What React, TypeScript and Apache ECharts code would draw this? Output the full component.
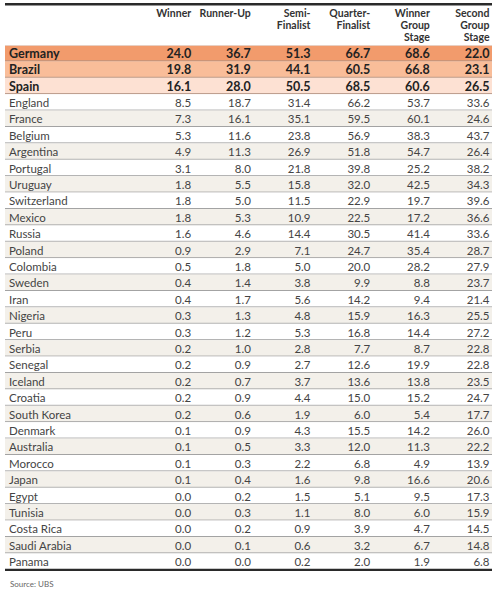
import React, { useEffect, useRef } from "react";
import * as echarts from "echarts";

const countries = [
  "Germany", "Brazil", "Spain", "England", "France", "Belgium", "Argentina", "Portugal",
  "Uruguay", "Switzerland", "Mexico", "Russia", "Poland", "Colombia", "Sweden", "Iran",
  "Nigeria", "Peru", "Serbia", "Senegal", "Iceland", "Croatia", "South Korea", "Denmark",
  "Australia", "Morocco", "Japan", "Egypt", "Tunisia", "Costa Rica", "Saudi Arabia", "Panama",
];
const headers = [
  "Winner", "Runner-Up", "Semi-\nFinalist", "Quarter-\nFinalist",
  "Winner\nGroup\nStage", "Second\nGroup\nStage",
];
const winner = [24.0, 19.8, 16.1, 8.5, 7.3, 5.3, 4.9, 3.1, 1.8, 1.8, 1.8, 1.6, 0.9, 0.5, 0.4, 0.4, 0.3, 0.3, 0.2, 0.2, 0.2, 0.2, 0.2, 0.1, 0.1, 0.1, 0.1, 0.0, 0.0, 0.0, 0.0, 0.0];
const runnerUp = [36.7, 31.9, 28.0, 18.7, 16.1, 11.6, 11.3, 8.0, 5.5, 5.0, 5.3, 4.6, 2.9, 1.8, 1.4, 1.7, 1.3, 1.2, 1.0, 0.9, 0.7, 0.9, 0.6, 0.9, 0.5, 0.3, 0.4, 0.2, 0.3, 0.2, 0.1, 0.0];
const semiFinalist = [51.3, 44.1, 50.5, 31.4, 35.1, 23.8, 26.9, 21.8, 15.8, 11.5, 10.9, 14.4, 7.1, 5.0, 3.8, 5.6, 4.8, 5.3, 2.8, 2.7, 3.7, 4.4, 1.9, 4.3, 3.3, 2.2, 1.6, 1.5, 1.1, 0.9, 0.6, 0.2];
const quarterFinalist = [66.7, 60.5, 68.5, 66.2, 59.5, 56.9, 51.8, 39.8, 32.0, 22.9, 22.5, 30.5, 24.7, 20.0, 9.9, 14.2, 15.9, 16.8, 7.7, 12.6, 13.6, 15.0, 6.0, 15.5, 12.0, 6.8, 9.8, 5.1, 8.0, 3.9, 3.2, 2.0];
const winnerGroup = [68.6, 66.8, 60.6, 53.7, 60.1, 38.3, 54.7, 25.2, 42.5, 19.7, 17.2, 41.4, 35.4, 28.2, 8.8, 9.4, 16.3, 14.4, 8.7, 19.9, 13.8, 15.2, 5.4, 14.2, 11.3, 4.9, 16.6, 9.5, 6.0, 4.7, 6.7, 1.9];
const secondGroup = [22.0, 23.1, 26.5, 33.6, 24.6, 43.7, 26.4, 38.2, 34.3, 39.6, 36.6, 33.6, 28.7, 27.9, 23.7, 21.4, 25.5, 27.2, 22.8, 22.8, 23.5, 24.7, 17.7, 26.0, 22.2, 13.9, 20.6, 17.3, 15.9, 14.5, 14.8, 6.8];
const columns = [winner, runnerUp, semiFinalist, quarterFinalist, winnerGroup, secondGroup];
const sourceText = "Source: UBS";

const FONT = "Lato, 'Noto Sans', sans-serif";
const TABLE_LEFT = 5;
const TABLE_RIGHT = 492;
const highlightColors = ["#f29b6c", "#f9bd99", "#fde1d3"];
const stripe = "#f3f0ea";

export default function App() {
  const ref = useRef<HTMLDivElement>(null);
  useEffect(() => {
    document.body.style.margin = "0";
    const chart = echarts.init(ref.current!, null, { renderer: "svg" });
    const cells: number[][] = [];
    columns.forEach((col, c) => col.forEach((v, r) => cells.push([c, r, v])));
    const rows = countries.map((_, i) => [0, i]);
    const headerItems = headers.map((_, i) => [i, 0]);

    chart.setOption({
      animation: false,
      backgroundColor: "#ffffff",
      title: {
        text: sourceText,
        left: 5,
        top: 575,
        textStyle: { fontFamily: FONT, fontSize: 8, fontWeight: "normal", color: "#666" },
      },
      grid: { left: 132, right: 10, top: 45, bottom: 591 - (45 + 32 * 16.4), containLabel: false },
      xAxis: {
        type: "category",
        position: "top",
        data: headers,
        axisLine: { show: false },
        axisTick: { show: false },
        splitLine: { show: false },
        axisLabel: { show: false },
      },
      yAxis: {
        type: "category",
        inverse: true,
        data: countries,
        z: 10,
        axisLine: { show: false },
        axisTick: { show: false },
        splitLine: { show: false },
        axisLabel: {
          interval: 0,
          align: "left",
          margin: 123,
          formatter: (v: string, i: number) => (i < 3 ? `{b|${v}}` : `{n|${v}}`),
          rich: {
            b: { fontFamily: FONT, fontWeight: "bold", fontSize: 12.5, color: "#222" },
            n: { fontFamily: FONT, fontSize: 11.5, color: "#444" },
          },
        },
      },
      graphic: [
        { type: "rect", shape: { x: TABLE_LEFT, y: 3, width: TABLE_RIGHT - TABLE_LEFT, height: 2.5 }, style: { fill: "#2a2a2a" }, z: 20 },
      ],
      series: [
        {
          type: "custom",
          z: 1,
          data: rows,
          renderItem: (params: any, api: any) => {
            const idx = api.value(1);
            const center = api.coord([0, idx]);
            const h = api.size([0, 1])[1];
            const top = center[1] - h / 2;
            let fill = "#ffffff";
            if (idx < 3) fill = highlightColors[idx];
            else if (idx % 2 === 0) fill = stripe;
            const last = idx === countries.length - 1;
            const children: any[] = [
              { type: "rect", shape: { x: TABLE_LEFT, y: top, width: TABLE_RIGHT - TABLE_LEFT, height: h }, style: { fill } },
            ];
            if (idx === 0) {
              children.push({ type: "line", shape: { x1: TABLE_LEFT, y1: top + 0.5, x2: TABLE_RIGHT, y2: top + 0.5 }, style: { stroke: "#e8cfc2", lineWidth: 1 } });
            }
            if (last) {
              children.push({ type: "rect", shape: { x: TABLE_LEFT, y: top + h - 1, width: TABLE_RIGHT - TABLE_LEFT, height: 2.2 }, style: { fill: "#2a2a2a" } });
            } else {
              children.push({ type: "line", shape: { x1: TABLE_LEFT, y1: top + h - 0.5, x2: TABLE_RIGHT, y2: top + h - 0.5 }, style: { stroke: idx < 3 ? "#b09080" : "#a3a3a3", lineWidth: 1 } });
            }
            return { type: "group", children };
          },
        },
        {
          type: "custom",
          z: 5,
          data: headerItems,
          renderItem: (params: any, api: any) => {
            const c = api.value(0);
            const pt = api.coord([c, 0]);
            const bw = api.size([1, 0])[0];
            return {
              type: "text",
              x: pt[0] + bw / 2 - 0.5,
              y: params.coordSys.y - 38.5,
              style: {
                text: headers[c],
                align: "right",
                verticalAlign: "top",
                lineHeight: 12,
                fontFamily: FONT,
                fontSize: 10.5,
                fontWeight: "bold",
                fill: "#333",
              },
            };
          },
        },
        {
          type: "custom",
          z: 5,
          data: cells,
          renderItem: (params: any, api: any) => {
            const c = api.value(0);
            const r = api.value(1);
            const v = api.value(2);
            const pt = api.coord([c, r]);
            const bw = api.size([1, 0])[0];
            const bold = r < 3;
            return {
              type: "text",
              x: pt[0] + bw / 2 - 0.5,
              y: pt[1],
              style: {
                text: Number(v).toFixed(1),
                align: "right",
                verticalAlign: "middle",
                fontFamily: FONT,
                fontSize: bold ? 12.5 : 11.5,
                fontWeight: bold ? "bold" : "normal",
                fill: bold ? "#222" : "#444",
              },
            };
          },
        },
      ],
    });
    return () => chart.dispose();
  }, []);
  return <div ref={ref} style={{ width: 500, height: 591 }} />;
}
